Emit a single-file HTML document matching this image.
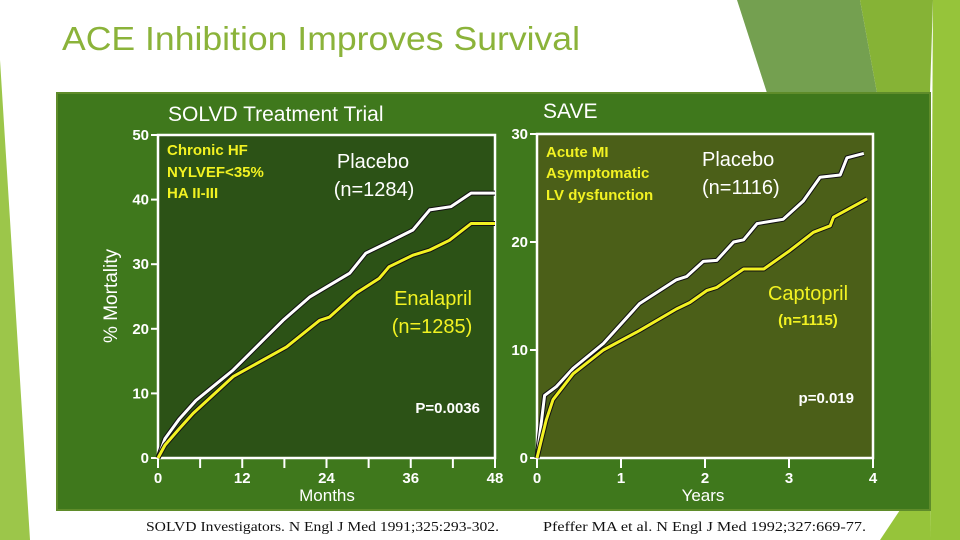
<!DOCTYPE html>
<html><head><meta charset="utf-8"><style>
html,body{margin:0;padding:0;background:#fff;}
svg{display:block;font-family:"Liberation Sans",sans-serif;}
</style></head><body>
<svg id="s" width="960" height="540" viewBox="0 0 960 540">
<polygon points="0,60 30,540 0,540" fill="#9cc64a"/>
<polygon points="737,0 860,0 877,93 767,93" fill="#74a050"/>
<polygon points="860,0 933,0 930,93 877,93" fill="#86b336"/>
<polygon points="933,0 960,0 960,540 930,540" fill="#96c43a"/>
<polygon points="900,510 930,510 930,540 880,540" fill="#96c43a"/>
<text x="62" y="50" font-size="33" fill="#8bb33a" textLength="518" lengthAdjust="spacingAndGlyphs">ACE Inhibition Improves Survival</text>
<rect x="57" y="93" width="873" height="417" fill="#3f781c" stroke="#5f8c2a" stroke-width="2"/>
<g id="left"></g>
<g id="right"></g>
<text x="146" y="531" font-family="Liberation Serif" font-size="14" fill="#111" textLength="353" lengthAdjust="spacingAndGlyphs">SOLVD Investigators. N Engl J Med 1991;325:293-302.</text>
<text x="543" y="531" font-family="Liberation Serif" font-size="14" fill="#111" textLength="323" lengthAdjust="spacingAndGlyphs">Pfeffer MA et al. N Engl J Med 1992;327:669-77.</text>
</svg>
<script>
// SOLVD data (months, % mortality)
const solvdPlaceboX=[0,1,3,5.4,10.7,15.4,17.8,21.6,27.3,29.6,33,36.3,38.7,41.7,44.6,48];
const solvdPlaceboY=[0,3,6,8.9,13.6,18.7,21.3,24.9,28.6,31.7,33.5,35.3,38.4,38.9,41,41];
const solvdEnalaprilX=[0,1,3,5,10.7,18.3,23,24.4,28.2,31.5,32.9,36.3,38.7,41.5,44.6,48];
const solvdEnalaprilY=[0,2,4.5,6.9,12.6,17.2,21.3,21.8,25.5,27.8,29.6,31.4,32.2,33.7,36.3,36.3];
const solvdYTicks=[0,10,20,30,40,50];
const solvdXTicks=[0,6,12,18,24,30,36,42,48];
const solvdXLabels=[0,12,24,36,48];
// SAVE data (years, % mortality)
const savePlaceboX=[0,0.09,0.23,0.43,0.79,1.22,1.66,1.78,1.98,2.14,2.34,2.46,2.62,2.93,3.17,3.37,3.61,3.69,3.89];
const savePlaceboY=[0,5.8,6.6,8.3,10.6,14.3,16.5,16.8,18.2,18.3,20,20.2,21.7,22.1,23.8,26,26.2,27.8,28.2];
const saveCaptoprilX=[0,0.11,0.19,0.43,0.79,1.22,1.66,1.82,2.02,2.14,2.46,2.7,3.01,3.29,3.49,3.53,3.93];
const saveCaptoprilY=[0,3.5,5.4,7.8,10,11.8,13.8,14.4,15.5,15.8,17.5,17.5,19.2,20.9,21.5,22.3,24];
const saveYTicks=[0,10,20,30];
const saveXTicks=[0,1,2,3,4];

const NS="http://www.w3.org/2000/svg";
function mk(parent,tag,attrs,text){const e=document.createElementNS(NS,tag);for(const k in attrs)e.setAttribute(k,attrs[k]);if(text!==undefined)e.textContent=text;parent.appendChild(e);return e;}

function chart(g,cfg){
  const sx=v=>cfg.x0+(v-cfg.xmin)/(cfg.xmax-cfg.xmin)*(cfg.x1-cfg.x0);
  const sy=v=>cfg.y0-(v-cfg.ymin)/(cfg.ymax-cfg.ymin)*(cfg.y0-cfg.y1);
  const bg=mk(g,'rect',{x:cfg.x0,y:cfg.y1,width:cfg.x1-cfg.x0,height:cfg.y0-cfg.y1,fill:cfg.fill,stroke:'#fff','stroke-width':2.5});
  
  
  cfg.yTicks.forEach(v=>{
    const t=mk(g,'line',{x1:cfg.x0-7,x2:cfg.x0,y1:sy(v),y2:sy(v),stroke:'#fff','stroke-width':2});
    
    
    const l=mk(g,'text',{x:cfg.x0-9,y:sy(v)+5,'text-anchor':'end','font-size':15,'font-weight':'bold',fill:'#fff'},String(v));
    
    
  });
  cfg.xTicks.forEach(v=>{
    const t=mk(g,'line',{x1:sx(v),x2:sx(v),y1:cfg.y0,y2:cfg.y0+10,stroke:'#fff','stroke-width':2});
    
    
  });
  cfg.xLabels.forEach(v=>{
    const l=mk(g,'text',{x:sx(v),y:cfg.y0+25,'text-anchor':'middle','font-size':15,'font-weight':'bold',fill:'#fff'},String(v));
    
    
  });
  cfg.series.forEach(s=>{
    const pts=s.x.map((x,i)=>sx(x).toFixed(1)+','+sy(s.y[i]).toFixed(1)).join(' ');
    const sh=mk(g,'polyline',{points:pts,fill:'none',stroke:'#111','stroke-width':5,'stroke-linejoin':'round'});
    
    
    const p=mk(g,'polyline',{points:pts,fill:'none',stroke:s.color,'stroke-width':3,'stroke-linejoin':'round'});
    
    
  });
}
const L=document.getElementById('left'),R=document.getElementById('right');
chart(L,{x0:158,x1:495,y0:458,y1:135,xmin:0,xmax:48,ymin:0,ymax:50,fill:'#2c5216',yTicks:solvdYTicks,xTicks:solvdXTicks,xLabels:solvdXLabels,
  series:[{name:'placebo-line',x:solvdPlaceboX,y:solvdPlaceboY,color:'#fff'},{name:'enalapril-line',x:solvdEnalaprilX,y:solvdEnalaprilY,color:'#f2f222'}]});
chart(R,{x0:537,x1:873,y0:458,y1:134,xmin:0,xmax:4,ymin:0,ymax:30,fill:'#4b5f18',yTicks:saveYTicks,xTicks:saveXTicks,xLabels:saveXTicks,
  series:[{name:'placebo-line',x:savePlaceboX,y:savePlaceboY,color:'#fff'},{name:'captopril-line',x:saveCaptoprilX,y:saveCaptoprilY,color:'#f2f222'}]});
function txt(g,name,a,t){const e=mk(g,'text',a,t);return e;}
const W='#fff',Y='#f2f222';
txt(L,'solvd-title',{x:168,y:121,'font-size':21,fill:W},'SOLVD Treatment Trial');
txt(L,'y-axis-title',{x:117,y:296,'font-size':19,fill:W,'text-anchor':'middle',transform:'rotate(-90 117 296)'},'% Mortality');
txt(L,'x-axis-title',{x:327,y:501,'font-size':17,fill:W,'text-anchor':'middle'},'Months');
txt(L,'criteria-1',{x:167,y:155,'font-size':15,'font-weight':'bold',fill:Y},'Chronic HF');
txt(L,'criteria-2',{x:167,y:177,'font-size':15,'font-weight':'bold',fill:Y},'NYLVEF<35%');
txt(L,'criteria-3',{x:167,y:198,'font-size':15,'font-weight':'bold',fill:Y},'HA II-III');
txt(L,'placebo-label',{x:373,y:168,'font-size':20,fill:W,'text-anchor':'middle'},'Placebo');
txt(L,'placebo-n',{x:374,y:196,'font-size':20,fill:W,'text-anchor':'middle'},'(n=1284)');
txt(L,'enalapril-label',{x:433,y:305,'font-size':20,fill:Y,'text-anchor':'middle'},'Enalapril');
txt(L,'enalapril-n',{x:432,y:333,'font-size':20,fill:Y,'text-anchor':'middle'},'(n=1285)');
txt(L,'p-value',{x:480,y:413,'font-size':15,'font-weight':'bold',fill:W,'text-anchor':'end'},'P=0.0036');
txt(R,'save-title',{x:543,y:118,'font-size':21,fill:W},'SAVE');
txt(R,'x-axis-title',{x:703,y:501,'font-size':17,fill:W,'text-anchor':'middle'},'Years');
txt(R,'criteria-1',{x:546,y:157,'font-size':15,'font-weight':'bold',fill:Y},'Acute MI');
txt(R,'criteria-2',{x:546,y:178,'font-size':15,'font-weight':'bold',fill:Y},'Asymptomatic');
txt(R,'criteria-3',{x:546,y:200,'font-size':15,'font-weight':'bold',fill:Y},'LV dysfunction');
txt(R,'placebo-label',{x:702,y:166,'font-size':20,fill:W},'Placebo');
txt(R,'placebo-n',{x:702,y:194,'font-size':20,fill:W},'(n=1116)');
txt(R,'captopril-label',{x:808,y:300,'font-size':20,fill:Y,'text-anchor':'middle'},'Captopril');
txt(R,'captopril-n',{x:808,y:325,'font-size':15,'font-weight':'bold',fill:Y,'text-anchor':'middle'},'(n=1115)');
txt(R,'p-value',{x:854,y:403,'font-size':15,'font-weight':'bold',fill:W,'text-anchor':'end'},'p=0.019');
</script>
</body></html>
